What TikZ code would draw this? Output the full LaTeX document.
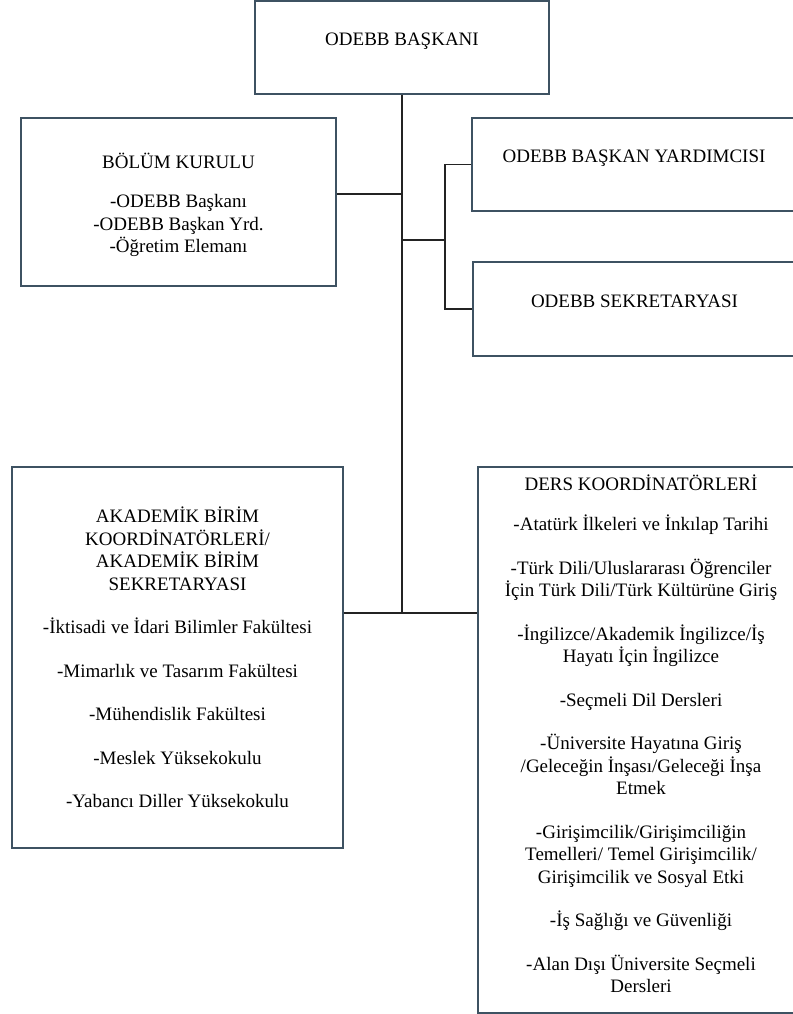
\documentclass[tikz,border=0pt]{standalone}
\usepackage{fontspec}
\setmainfont{Liberation Serif}
\usetikzlibrary{positioning}
\definecolor{boxslate}{RGB}{62, 82, 98}
\definecolor{linkgray}{RGB}{35, 35, 35}

\begin{document}
\begin{tikzpicture}[x=1pt, y=-1pt,
  orgbox/.style={draw=boxslate, line width=1.5pt, inner sep=0pt, align=center, font=\fontsize{19}{22.5}\selectfont},
  onetext/.style={text height=13pt, text depth=17pt},
  link/.style={draw=linkgray, line width=1.3pt}]
  \useasboundingbox (0,0) rectangle (792,1014);

  % Head
  \node[orgbox, onetext, minimum width=294pt, minimum height=93pt] (head) at (402, 47.5) {ODEBB BAŞKANI};

  % Board and staff
  \node[orgbox, minimum width=315pt, minimum height=168pt] (board) at (178.5, 202) {\rule{0pt}{21pt}BÖLÜM KURULU\\[17pt]-ODEBB Başkanı\\-ODEBB Başkan Yrd.\\-Öğretim Elemanı};
  \node[orgbox, onetext, minimum width=324pt, minimum height=93pt] (deputy) at (634, 164.5) {ODEBB BAŞKAN YARDIMCISI};
  \node[orgbox, onetext, minimum width=323pt, minimum height=94pt] (secretariat) at (634.5, 309) {ODEBB SEKRETARYASI};

  % Coordinators
  \node[orgbox, minimum width=331pt, minimum height=381pt] (units) at (177.5, 657.5) {AKADEMİK BİRİM\\KOORDİNATÖRLERİ/\\AKADEMİK BİRİM\\SEKRETARYASI\\[21pt]-İktisadi ve İdari Bilimler Fakültesi\\[21pt]-Mimarlık ve Tasarım Fakültesi\\[21pt]-Mühendislik Fakültesi\\[21pt]-Meslek Yüksekokulu\\[21pt]-Yabancı Diller Yüksekokulu};
  \node[orgbox, minimum width=326pt, minimum height=546pt] (courses) at (641, 740) {DERS KOORDİNATÖRLERİ\\[18pt]-Atatürk İlkeleri ve İnkılap Tarihi\\[21pt]-Türk Dili/Uluslararası Öğrenciler\\İçin Türk Dili/Türk Kültürüne Giriş\\[21pt]-İngilizce/Akademik İngilizce/İş\\Hayatı İçin İngilizce\\[21pt]-Seçmeli Dil Dersleri\\[21pt]-Üniversite Hayatına Giriş\\/Geleceğin İnşası/Geleceği İnşa\\Etmek\\[21pt]-Girişimcilik/Girişimciliğin\\Temelleri/ Temel Girişimcilik/\\Girişimcilik ve Sosyal Etki\\[21pt]-İş Sağlığı ve Güvenliği\\[21pt]-Alan Dışı Üniversite Seçmeli\\Dersleri\rule[-13pt]{0pt}{13pt}};

  % Links
  \coordinate (bus) at (402, 613);
  \coordinate (boardjoin) at (402, 194);
  \coordinate (fork) at (445, 240);
  \draw[link] (head.south) -- (bus);
  \draw[link] (board.east |- boardjoin) -- (boardjoin);
  \draw[link] (head.south |- fork) -- (fork);
  \draw[link] (deputy.west) -| (fork) |- (secretariat.west);
  \draw[link] (units.east |- bus) -- (courses.west |- bus);
\end{tikzpicture}
\end{document}
